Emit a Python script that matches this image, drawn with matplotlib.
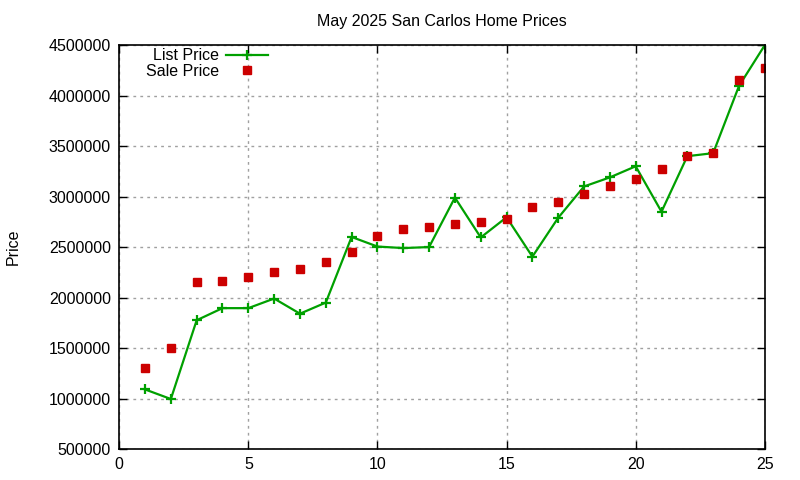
import matplotlib
matplotlib.use("Agg")
import matplotlib.pyplot as plt

plt.rcParams['font.family'] = ['Liberation Sans', 'DejaVu Sans']

# listing index 1..25
homes = list(range(1, 26))
list_price = [1090000, 995000, 1775000, 1895000, 1895000, 1990000, 1840000, 1950000,
              2600000, 2505000, 2490000, 2500000, 2990000, 2595000, 2795000, 2405000,
              2790000, 3100000, 3190000, 3300000, 2850000, 3400000, 3430000, 4095000,
              4500000]
sale_price = [1300000, 1500000, 2150000, 2160000, 2200000, 2250000, 2280000, 2350000,
              2450000, 2610000, 2680000, 2700000, 2730000, 2750000, 2780000, 2895000,
              2950000, 3025000, 3100000, 3170000, 3270000, 3400000, 3430000, 4150000,
              4270000]

green = '#00a000'
red = '#cc0000'

fig = plt.figure(figsize=(8, 4.8), dpi=100)
ax = fig.add_axes([0.149, 0.0646, 0.807, 0.8414])

ax.plot(homes, list_price, color=green, lw=1.6, marker='+', ms=7, mew=1.6,
        label='List Price')
ax.plot(homes, sale_price, ls='none', color=red, marker='s', ms=6,
        label='Sale Price')

ax.set_xlim(0, 25)
ax.set_ylim(500000, 4500000)
ax.set_xticks(range(0, 26, 5))
ax.set_yticks(range(500000, 4500001, 500000))
ax.ticklabel_format(style='plain', axis='y', useOffset=False)
ax.tick_params(direction='in', top=True, right=True, length=6, width=1,
               labelsize=11.5, colors='black', pad=6)
ax.grid(True, color='#a0a0a0', ls=(0, (2, 3)), lw=1)
for s in ax.spines.values():
    s.set_linewidth(1.2)

ax.set_title('May 2025 San Carlos Home Prices', fontsize=11.5, pad=14)
ax.set_ylabel('Price', fontsize=11.5, labelpad=20)

leg = ax.legend(loc='upper left', bbox_to_anchor=(0.024, 1.02), frameon=False,
                markerfirst=False, fontsize=11.5, handlelength=2.6,
                handletextpad=0.45, labelspacing=0.05, borderaxespad=0.3)
for t in leg.get_texts():
    t.set_ha('right')
    t.set_position((0, 0))

fig.savefig('out.png', dpi=100)
